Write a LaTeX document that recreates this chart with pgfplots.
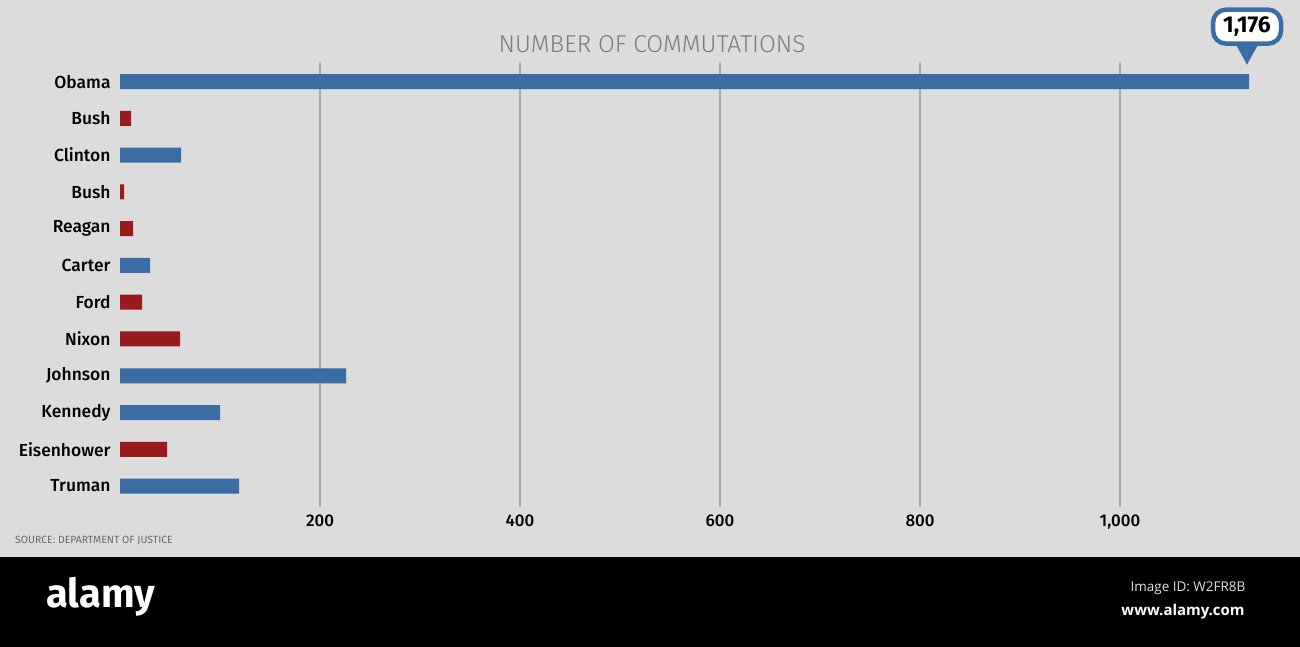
\documentclass[border=0pt]{standalone}
\usepackage{fontspec}
\setmainfont{Fira Sans}
\newfontfamily\firamed{Fira Sans Medium}
\newfontfamily\firalight{Fira Sans Light}
\newfontfamily\opensans{Open Sans}
\usepackage{pgfplots}
\pgfplotsset{compat=1.18}
\definecolor{bg}{HTML}{DCDCDC}
\definecolor{barblue}{HTML}{3B6CA3}
\definecolor{barred}{HTML}{9A1B1E}
\definecolor{gridc}{HTML}{A9A9A9}
\definecolor{titlec}{HTML}{7A7A7A}
\begin{document}
\begin{tikzpicture}[x=1bp,y=1bp]
\fill[bg] (0,0) rectangle (1300,647);
\fill[black] (0,0) rectangle (1300,90);
\begin{axis}[
  at={(120bp,140bp)}, anchor=south west,
  scale only axis, width=1140bp, height=444bp,
  xmin=0, xmax=1140, ymin=-0.57, ymax=11.508,
  axis line style={draw=none}, tick style={draw=none},
  xmajorgrids, grid style={gridc, line width=1.2bp},
  xtick={200,400,600,800,1000}, xticklabels={200,400,600,800,{1,000}},
  ytick={0,...,11},
  yticklabels={Truman,Eisenhower,Kennedy,Johnson,Nixon,Ford,Carter,Reagan,Bush,Clinton,Bush,Obama},
  xticklabel style={font=\firamed\fontsize{17}{17}\selectfont, text=black, anchor=north, inner sep=0pt, yshift=-8bp},
  yticklabel style={font=\firamed\fontsize{17.5}{17.5}\selectfont, text=black, anchor=east, inner sep=0pt, xshift=-5bp},
  xbar, bar width=15bp, bar shift=0pt, clip=false,
]
\addplot[draw=none, fill=barblue] coordinates {(1129,11) (61,9) (30,6) (226,3) (100,2) (119,0)};
\addplot[draw=none, fill=barred] coordinates {(11,10) (4,8) (13,7) (22,5) (60,4) (47,1)};
\coordinate (tip) at ([xshift=-2bp,yshift=17bp]axis cs:1129,11);
\end{axis}
\fill[barblue] (tip) -- ++(-11bp,20bp) -- ++(22bp,0) -- cycle;
\node[draw=barblue, line width=4.5bp, fill=white, rounded corners=13bp, minimum width=68bp, minimum height=34bp, inner sep=0pt, font=\bfseries\fontsize{23}{23}\selectfont] at ([yshift=38bp]tip) {1,176};
\node[font=\firalight\fontsize{24.5}{24.5}\selectfont, text=titlec] at (652,603) {NUMBER OF COMMUTATIONS};
\node[font=\fontsize{10.5}{10.5}\selectfont, text=titlec!85!black, anchor=west, inner sep=0pt] at (15,106) {SOURCE: DEPARTMENT OF JUSTICE};
\node[font=\bfseries\fontsize{40}{40}\selectfont, text=white] at (101,50) {alamy};
\node[font=\opensans\fontsize{13.5}{13.5}\selectfont, text=white!88!black] at (1188,59) {Image ID: W2FR8B};
\node[font=\opensans\bfseries\fontsize{15}{15}\selectfont, text=white] at (1183,35) {www.alamy.com};
\end{tikzpicture}
\end{document}
